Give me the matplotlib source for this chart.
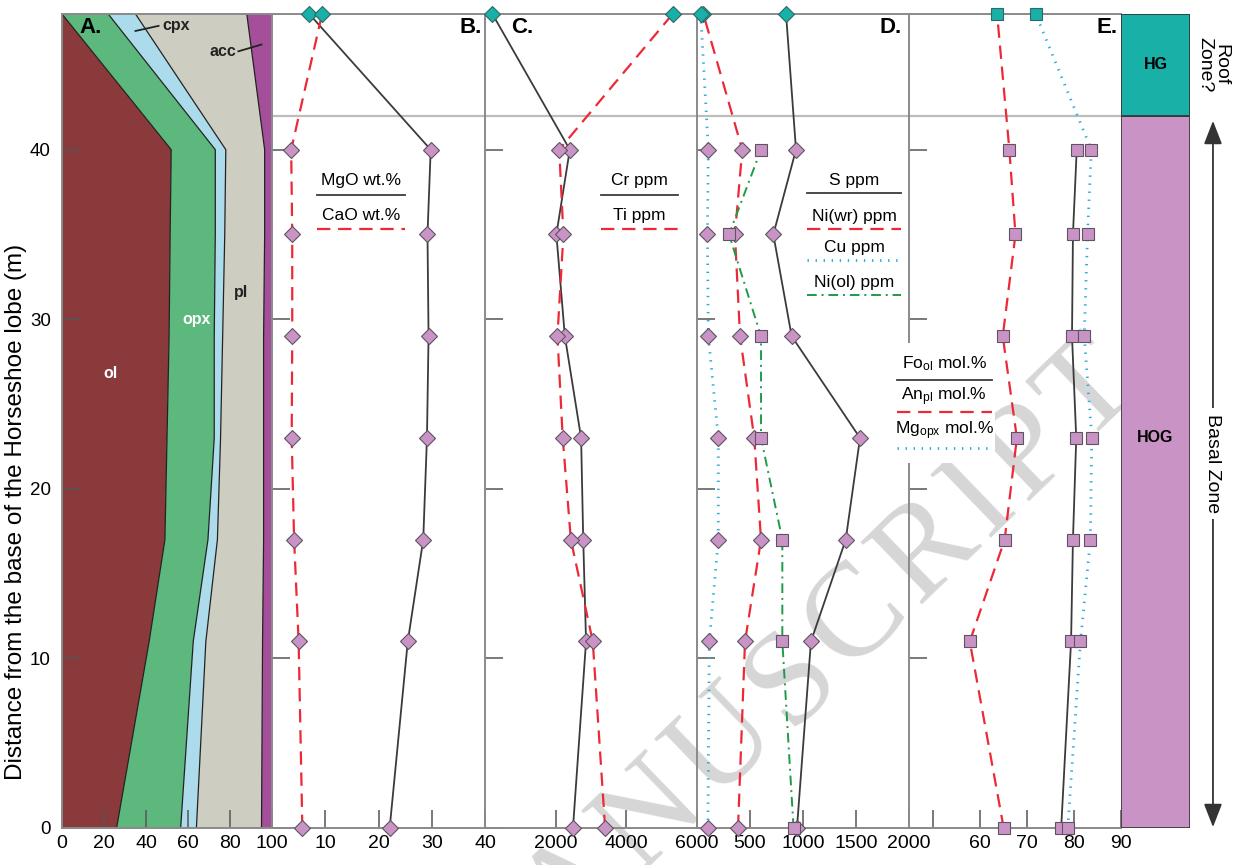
import numpy as np
import matplotlib.pyplot as plt
from matplotlib.patches import Rectangle
from matplotlib.font_manager import FontProperties
from matplotlib.textpath import TextToPath

plt.rcParams['font.family'] = ['Liberation Sans', 'DejaVu Sans']
plt.rcParams['mathtext.fontset'] = 'custom'
plt.rcParams['mathtext.rm'] = 'Liberation Sans'
plt.rcParams['mathtext.it'] = 'Liberation Sans:italic'

# heights of the samples (m); the last one is the HG sample at the roof
depth = [0, 11, 17, 23, 29, 35, 40, 48]
nan = np.nan

# A. modal mineralogy (%)
ol = [26, 41.5, 49, 50, 51, 51.5, 52, 0]
opx = [30.5, 21, 20.5, 22.5, 21.5, 21.5, 21, 22]
cpx = [7.5, 6, 4.5, 3, 4, 4.5, 5, 13]
pl = [31, 27, 22, 20.5, 19.5, 19, 18.5, 53]
acc = [5, 4.5, 4, 4, 4, 3.5, 3.5, 12]
minerals = ['ol', 'opx', 'cpx', 'pl', 'acc']
mineral_colors = ['#8b3a3b', '#5cb87c', '#acdcec', '#cecdc1', '#a54f9b']

# B. wt.%
mgo = [22.1, 25.5, 28.4, 29.1, 29.4, 29.2, 29.8, 7.0]
cao = [5.7, 5.0, 4.15, 3.7, 3.8, 3.8, 3.6, 9.4]

# C. ppm
cr = [2490, 2860, 2780, 2720, 2260, 2020, 2400, 210]
ti = [3400, 3050, 2430, 2200, 2050, 2220, 2100, 5310]

# D. ppm
s = [943, 1075, 1403, 1538, 893, 720, 934, 840]
ni_wr = [387, 453, 604, 540, 406, 358, 427, 60]
cu = [103, 116, 201, 201, 107, 98, 107, 35]
ni_ol = [911, 805, 805, 604, 604, 302, 604, nan]

# E. mol.%
fo = [77.3, 79.4, 79.8, 80.5, 79.6, 79.8, 80.6, nan]
an = [65.1, 57.9, 65.3, 67.9, 64.9, 67.6, 66.3, 63.7]
mg_opx = [78.7, 81.4, 83.5, 83.8, 82.2, 82.9, 83.7, 71.9]

# zones
zone_names = ['HOG', 'HG']
zone_bottom = [0, 42]
zone_top = [42, 48]

pink = '#c994c5'
teal = '#19b0a8'
gray = '#8a8a8a'
solid = dict(color='#3b3b3b', lw=1.3)
red = dict(color='#ed2938', lw=1.6, dashes=(6, 3.5))
blue = dict(color='#29abe2', lw=2.0, dashes=(0.5, 2.4))
green = dict(color='#1f9a48', lw=1.4, dashes=(5, 2.5, 1, 2.5))

fig = plt.figure(figsize=(12.53, 8.65), dpi=100)
W, H = 1253.0, 865.0
edges = [62, 272, 485, 697, 909, 1121, 1190]
bottom = 1 - 828 / H
height = (828 - 14) / H
axes = []
for i in range(6):
    ax = fig.add_axes([edges[i] / W, bottom, (edges[i + 1] - edges[i]) / W, height])
    ax.set_facecolor('none')
    ax.set_ylim(0, 48)
    axes.append(ax)
axA, axB, axC, axD, axE, axZ = axes

limits = [(0, 100), (0, 40), (0, 6000), (0, 2000), (45, 90)]
xticks = [[0, 20, 40, 60, 80, 100], [0, 10, 20, 30, 40], [0, 2000, 4000, 6000],
          [0, 500, 1000, 1500, 2000], [50, 60, 70, 80, 90]]
xlabels = [['0', '20', '40', '60', '80', '100'], ['', '10', '20', '30', '40'],
           ['', '2000', '4000', '6000'], ['', '500', '1000', '1500', '2000'],
           ['', '60', '70', '80', '90']]

for ax, lim, tk, lb in zip(axes[:5], limits, xticks, xlabels):
    ax.set_xlim(*lim)
    ax.set_xticks(tk)
    ax.set_xticklabels(lb)
    ax.set_yticks([0, 10, 20, 30, 40])
    ax.tick_params(direction='in', length=13, width=1.1, color='#555555',
                   labelsize=14, pad=5)
    ax.tick_params(axis='y', pad=8, labelsize=13.5)
    ax.spines['right'].set_visible(False)
    for sp in ['left', 'top', 'bottom']:
        ax.spines[sp].set_color(gray)
        ax.spines[sp].set_linewidth(1.4)
    if ax is not axA:
        ax.tick_params(axis='y', labelleft=False)
        ax.axhline(42, color='#bdbdbd', lw=1.6, zorder=1)

# A. stacked modal proportions
d = np.array(depth, float)
cum = np.zeros(len(depth))
for name, vals, col in zip(minerals, [ol, opx, cpx, pl, acc], mineral_colors):
    top = cum + np.array(vals, float)
    axA.fill_betweenx(d, cum, top, facecolor=col, edgecolor='none', zorder=1)
    if name != 'acc':
        axA.plot(top, d, color='#222222', lw=0.9, zorder=1.2)
    cum = top
axA.text(23, 26.8, 'ol', color='white', fontsize=11.5, fontweight='bold', ha='center', va='center')
axA.text(64, 30, 'opx', color='white', fontsize=11.5, fontweight='bold', ha='center', va='center')
axA.text(85.5, 31.6, 'pl', color='#222222', fontsize=11.5, fontweight='bold', ha='center', va='center')
axA.text(48, 47.3, 'cpx', color='#222222', fontsize=11.5, fontweight='bold', ha='left', va='center')
axA.plot([35, 46], [47.0, 47.3], color='#222222', lw=1.3)
axA.text(83, 45.8, 'acc', color='#222222', fontsize=11.5, fontweight='bold', ha='right', va='center')
axA.plot([84, 95], [45.8, 46.2], color='#222222', lw=1.3)
axA.set_yticklabels(['0', '10', '20', '30', '40'])


def draw_line(ax, vals, style):
    v = np.array(vals, float)
    ok = ~np.isnan(v)
    ax.plot(v[ok], d[ok], clip_on=False, zorder=3, **style)


def draw_marks(ax, vals, marker, ms):
    v = np.array(vals, float)
    base = (~np.isnan(v)) & (d < 45)
    roof = (~np.isnan(v)) & (d > 45)
    ax.plot(v[base], d[base], ls='none', marker=marker, ms=ms, mfc=pink,
            mec='#5e5360', mew=0.8, zorder=4, clip_on=False)
    ax.plot(v[roof], d[roof], ls='none', marker=marker, ms=ms, mfc=teal,
            mec='#2f6966', mew=0.8, zorder=4, clip_on=False)


panels = [
    (axB, [(mgo, solid, 'D'), (cao, red, 'D')]),
    (axC, [(cr, solid, 'D'), (ti, red, 'D')]),
    (axD, [(s, solid, 'D'), (ni_wr, red, 'D'), (cu, blue, 'D'), (ni_ol, green, 's')]),
    (axE, [(fo, solid, 's'), (an, red, 's'), (mg_opx, blue, 's')]),
]
for ax, series in panels:
    for vals, style, mk in series:
        draw_line(ax, vals, style)
    for vals, style, mk in series:
        draw_marks(ax, vals, mk, 8 if mk == 'D' else 8.4)


def key(ax, x0, x1, ytxt, yline, label, style):
    ax.text((x0 + x1) / 2, ytxt, label, transform=ax.transAxes, ha='center',
            va='center', fontsize=12.5, zorder=6)
    ax.plot([x0, x1], [yline, yline], transform=ax.transAxes, clip_on=False,
            zorder=6, **style)


key(axB, 0.211, 0.624, 0.795, 0.778, 'MgO wt.%', solid)
key(axB, 0.211, 0.624, 0.752, 0.736, 'CaO wt.%', red)
key(axC, 0.547, 0.910, 0.795, 0.778, 'Cr ppm', solid)
key(axC, 0.547, 0.910, 0.752, 0.736, 'Ti ppm', red)
key(axD, 0.519, 0.962, 0.796, 0.780, 'S ppm', solid)
key(axD, 0.519, 0.962, 0.751, 0.736, 'Ni(wr) ppm', red)
key(axD, 0.519, 0.962, 0.713, 0.698, 'Cu ppm', blue)
key(axD, 0.519, 0.962, 0.670, 0.655, 'Ni(ol) ppm', green)
axE.add_patch(Rectangle((-0.065, 0.448), 0.47, 0.148, transform=axE.transAxes,
                        facecolor='white', edgecolor='none', zorder=5, clip_on=False))
key(axE, -0.058, 0.39, 0.571, 0.550, r'Fo$_{\mathregular{ol}}$ mol.%', solid)
key(axE, -0.058, 0.39, 0.530, 0.511, r'An$_{\mathregular{pl}}$ mol.%', red)
key(axE, -0.058, 0.39, 0.488, 0.467, r'Mg$_{\mathregular{opx}}$ mol.%', blue)

# panel letters
for ax, lab, x, ha in [(axA, 'A.', 0.085, 'left'), (axB, 'B.', 0.985, 'right'),
                       (axC, 'C.', 0.125, 'left'), (axD, 'D.', 0.968, 'right'),
                       (axE, 'E.', 0.982, 'right')]:
    ax.text(x, 0.983, lab, transform=ax.transAxes, ha=ha, va='center',
            fontsize=16, fontweight='bold', zorder=6)

# zone column
axZ.set_xlim(0, 1)
axZ.axis('off')
axZ.bar(0.5, np.array(zone_top) - np.array(zone_bottom), bottom=zone_bottom, width=1,
        color=[pink, teal], edgecolor='#333333', lw=1.2)
for name, b, t in zip(zone_names, zone_bottom, zone_top):
    axZ.text(0.5, (b + t) / 2 if name == 'HG' else 23, name, ha='center', va='center',
             fontsize=11.5, fontweight='bold')

axZ.annotate('', xy=(1.333, 41.7), xytext=(1.333, 0.05),
             xycoords=('axes fraction', 'data'), textcoords=('axes fraction', 'data'),
             arrowprops=dict(arrowstyle='<|-|>,head_length=0.9,head_width=0.35',
                             color='#333333', lw=1.3, mutation_scale=16,
                             shrinkA=0, shrinkB=0), annotation_clip=False)
axZ.text(1.333, 21.5, 'Basal Zone', transform=axZ.get_yaxis_transform(), rotation=270,
         ha='center', va='center', fontsize=14,
         bbox=dict(facecolor='white', edgecolor='none', pad=4), clip_on=False)
axZ.text(1.33, 45, 'Roof\nZone?', transform=axZ.get_yaxis_transform(), rotation=270,
         ha='center', va='center', fontsize=14, linespacing=0.95, clip_on=False)

fig.text(16 / W, 1 - 512 / H, 'Distance from the base of the Horseshoe lobe (m)',
         rotation=90, ha='center', va='center', fontsize=17.5)

# watermark, laid out letter by letter along a slanted line;
# only the letters that fall on the canvas are drawn
wm_text = 'ACCEPTED MANUSCRIPT'
wm_size = 96
wm_angle = 44
wm_track = 8  # px between letters
wm_anchor = (725, 745)  # pixel centre of the 'U'
prop = FontProperties(family='Liberation Serif', size=wm_size)
ttp = TextToPath()
widths = [ttp.get_text_width_height_descent(ch, prop, ismath=False)[0] * 100 / 72
          for ch in wm_text]
centres = np.cumsum(widths) - np.array(widths) / 2 + wm_track * np.arange(len(wm_text))
centres = centres - centres[wm_text.index('U')]
ux, uy = np.cos(np.radians(wm_angle)), np.sin(np.radians(wm_angle))
for ch, c in zip(wm_text, centres):
    px = wm_anchor[0] + c * ux
    py = (H - wm_anchor[1]) + c * uy
    if ch == ' ' or py < -40 or px < -40:
        continue
    fig.text(px / W, py / H, ch, rotation=wm_angle, rotation_mode='anchor',
             ha='center', va='center', fontproperties=prop, color='#d6d6d6', zorder=-1)

fig.savefig('out.png', dpi=100, facecolor='white')
